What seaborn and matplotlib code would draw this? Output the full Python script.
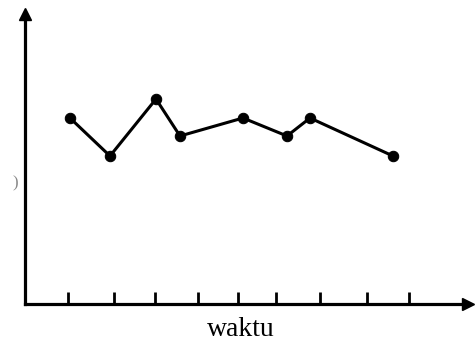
import matplotlib
matplotlib.use("Agg")
import matplotlib.pyplot as plt
import seaborn as sns
import pandas as pd

# chart values (x position along waktu, height above the x axis)
waktu_x = [70, 110, 156, 180, 243, 287, 310, 393]
nilai_y = [186, 148, 205, 168, 186, 168, 186, 148]
tick_pos = [68, 114, 155, 198, 238, 276, 320, 367, 409]
x_label = "waktu"

df = pd.DataFrame({"waktu": waktu_x, "nilai": nilai_y})

sns.set_style("white")
plt.rcParams["font.family"] = ["Liberation Serif", "DejaVu Serif"]

fig = plt.figure(figsize=(4.75, 3.43), dpi=100)
ax = fig.add_axes([25 / 475, 39 / 343, (468 - 25) / 475, 290 / 343])

sns.lineplot(data=df, x="waktu", y="nilai", ax=ax, color="black",
             linewidth=2.2, marker="o", markersize=7.5, markeredgecolor="black")

ax.set_xlim(25, 468)
ax.set_ylim(0, 290)

for side in ["top", "right"]:
    ax.spines[side].set_visible(False)
for side in ["left", "bottom"]:
    ax.spines[side].set_linewidth(2.3)
    ax.spines[side].set_color("black")

# arrow heads on the axes
ax.plot(1, 0, ">k", markersize=9, transform=ax.transAxes, clip_on=False)
ax.plot(0, 1, "^k", markersize=9, transform=ax.transAxes, clip_on=False)

ax.set_xticks(tick_pos)
ax.set_xticklabels([])
ax.set_yticks([])
ax.tick_params(axis="x", direction="in", length=9, width=2, color="black", bottom=True)

ax.set_xlabel(x_label, fontsize=20, color="black")
ax.xaxis.set_label_coords((241 - 25) / 443, -0.045)
ax.set_ylabel("")

fig.text(15 / 475, 1 - 183 / 343, ")", fontsize=12, color="#888888", ha="center", va="center")

fig.savefig("out.png", dpi=100)
